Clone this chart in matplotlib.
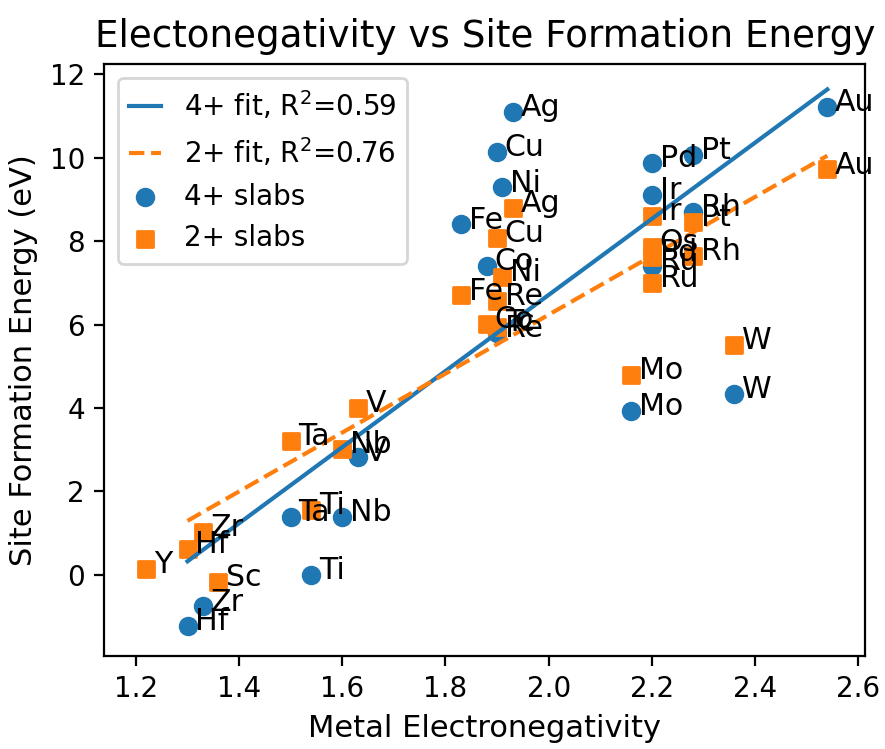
import matplotlib
matplotlib.use('Agg')
import matplotlib.pyplot as plt

# 4+ slabs
names4 = ['Hf', 'Zr', 'Ti', 'Ta', 'Nb', 'V', 'Fe', 'Co', 'Re', 'Cu', 'Ni', 'Ag',
          'Mo', 'Pd', 'Ir', 'Ru', 'Pt', 'Rh', 'W', 'Au']
en4 = [1.30, 1.33, 1.54, 1.50, 1.60, 1.63, 1.83, 1.88, 1.90, 1.90, 1.91, 1.93,
       2.16, 2.20, 2.20, 2.20, 2.28, 2.28, 2.36, 2.54]
e4 = [-1.22, -0.76, 0.00, 1.38, 1.38, 2.82, 8.40, 7.41, 5.79, 10.14, 9.29, 11.09,
      3.93, 9.87, 9.11, 7.40, 10.06, 8.71, 4.33, 11.22]

# 2+ slabs
names2 = ['Y', 'Hf', 'Zr', 'Sc', 'Ta', 'Ti', 'Nb', 'V', 'Fe', 'Co', 'Tc', 'Re',
          'Ni', 'Cu', 'Ag', 'Mo', 'Ru', 'Pd', 'Os', 'Ir', 'Rh', 'Pt', 'W', 'Au']
en2 = [1.22, 1.30, 1.33, 1.36, 1.50, 1.54, 1.60, 1.63, 1.83, 1.88, 1.90, 1.90,
       1.91, 1.90, 1.93, 2.16, 2.20, 2.20, 2.20, 2.20, 2.28, 2.28, 2.36, 2.54]
e2 = [0.14, 0.62, 1.02, -0.18, 3.21, 1.55, 3.02, 3.99, 6.70, 6.02, 5.95, 6.57,
      7.15, 8.08, 8.80, 4.79, 6.99, 7.63, 7.87, 8.60, 7.65, 8.47, 5.51, 9.72]

# linear fits (end points)
fit_x = [1.30, 2.54]
fit4_y = [0.32, 11.64]
fit2_y = [1.29, 10.05]

fig, ax = plt.subplots(figsize=(4.425, 3.745), dpi=200)
fig.subplots_adjust(left=0.118, right=0.9774, bottom=0.1248, top=0.9146)

ax.plot(fit_x, fit4_y, color='tab:blue', label='4+ fit, R$^2$=0.59')
ax.plot(fit_x, fit2_y, '--', color='tab:orange', label='2+ fit, R$^2$=0.76')
ax.scatter(en4, e4, color='tab:blue', marker='o', label='4+ slabs')
ax.scatter(en2, e2, color='tab:orange', marker='s', label='2+ slabs')

for n, x, y in zip(names4, en4, e4):
    ax.text(x + 0.015, y - 0.1, n, fontsize=10.8)
for n, x, y in zip(names2, en2, e2):
    ax.text(x + 0.015, y - 0.1, n, fontsize=10.8)

ax.set_xlim(1.139, 2.613)
ax.set_ylim(-1.94, 12.25)
ax.set_xlabel('Metal Electronegativity', fontsize=11)
ax.set_ylabel('Site Formation Energy (eV)', fontsize=11)
ax.set_title('Electonegativity vs Site Formation Energy', fontsize=13.4)
ax.legend(loc='upper left', scatterpoints=1, handlelength=1.15)

fig.savefig('out.png', dpi=200)
